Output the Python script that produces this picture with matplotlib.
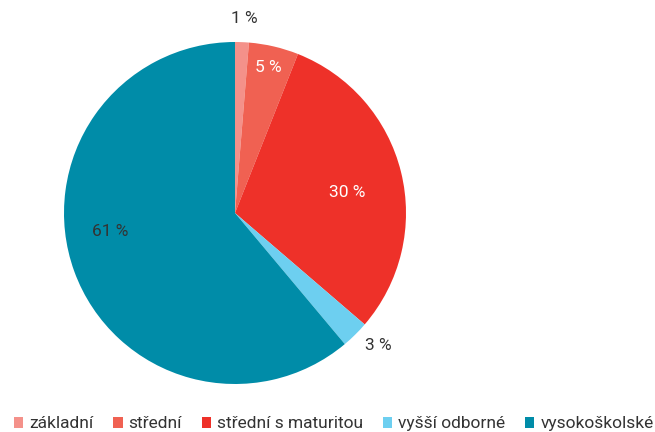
import matplotlib.pyplot as plt
from matplotlib.patches import Patch
import numpy as np

plt.rcParams['font.family'] = ['Roboto', 'DejaVu Sans']

# --- data ---
categories = ['základní', 'střední', 'střední s maturitou', 'vyšší odborné', 'vysokoškolské']
shares = [1.3, 4.7, 30.3, 2.6, 61.1]
colors = ['#F4918A', '#F06152', '#EE3129', '#6DCFF0', '#008CA8']

# label placement: (radius factor, clockwise angle shift in degrees), text colour
label_pos = [(1.14, 0.5), (0.875, -0.4), (0.67, 3.4), (1.14, -2.7), (0.74, 11.4)]
label_colors = ['#333333', 'white', 'white', '#333333', '#333333']

fig = plt.figure(figsize=(6.55, 4.32), dpi=100)
ax = fig.add_axes([64 / 655, 48 / 432, 342 / 655, 342 / 432])

wedges, _ = ax.pie(shares, colors=colors, startangle=90, counterclock=False,
                   wedgeprops=dict(linewidth=0))
ax.set_xlim(-1, 1)
ax.set_ylim(-1, 1)
ax.set_aspect('equal')

for w, val, (r, shift), tc in zip(wedges, shares, label_pos, label_colors):
    mid = np.deg2rad((w.theta1 + w.theta2) / 2 - shift)
    ax.text(r * np.cos(mid), r * np.sin(mid), f'{round(val)} %', color=tc,
            fontsize=12.5, ha='center', va='center', clip_on=False)

handles = [Patch(facecolor=c, edgecolor='none') for c in colors]
fig.legend(handles, categories, loc='lower left', bbox_to_anchor=(-0.003, -0.035),
           ncol=5, frameon=False, fontsize=12.5, handlelength=0.55, handleheight=0.55,
           handletextpad=0.35, columnspacing=1.12, labelcolor='#333333')

fig.savefig('out.png', dpi=100)
